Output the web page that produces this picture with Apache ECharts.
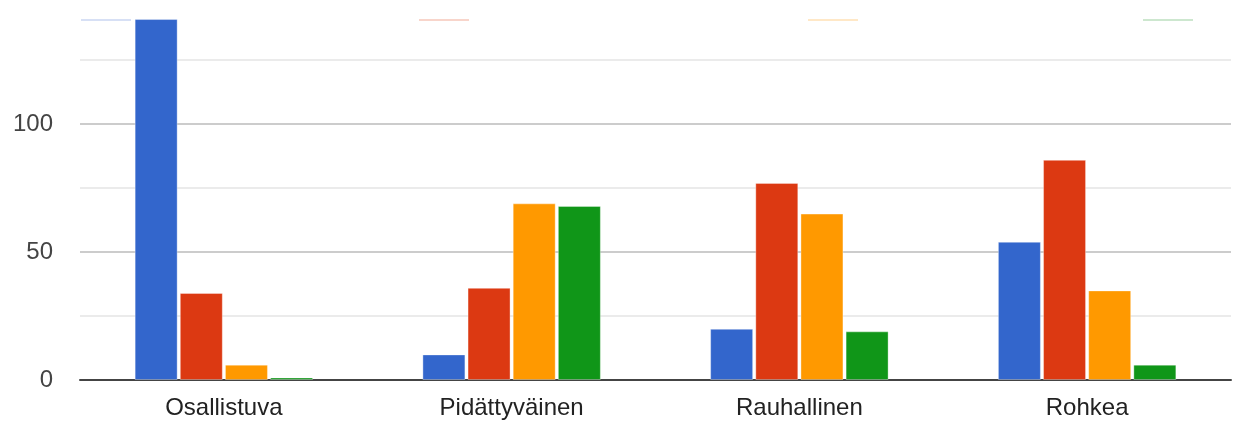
<!DOCTYPE html>
<html>
<head>
<meta charset="utf-8">
<script src="https://cdn.jsdelivr.net/npm/echarts@6/dist/echarts.min.js"></script>
<style>
html,body{margin:0;padding:0;background:#fff;overflow:hidden;width:1234px;height:423px;}
#c{width:1234px;height:427px;position:absolute;left:0;top:-4px;}
</style>
</head>
<body>
<div id="c"></div>
<script>
var categories = ['Osallistuva', 'Pidättyväinen', 'Rauhallinen', 'Rohkea'];
var seriesNames = ['Sarja 1', 'Sarja 2', 'Sarja 3', 'Sarja 4'];
var series1 = [141, 10, 20, 54];
var series2 = [34, 36, 77, 86];
var series3 = [6, 69, 65, 35];
var series4 = [1, 68, 19, 6];
var yTickLabels = [0, 50, 100];

var colors = ['#3366cc', '#dc3912', '#ff9900', '#109618'];
var legendColors = ['#c2d0f0', '#f5bfb0', '#ffdcaa', '#b3dbb5'];
var legendLefts = [80, 418, 807, 1142];
var values = [series1, series2, series3, series4];

var chart = echarts.init(document.getElementById('c'), null, {renderer: 'canvas'});

var legends = seriesNames.map(function (n, i) {
  return {
    left: legendLefts[i], top: 22, padding: 0,
    itemWidth: 50, itemHeight: 2, icon: 'rect',
    selectedMode: false,
    formatter: function () { return ''; },
    data: [{name: n, itemStyle: {color: legendColors[i]}}]
  };
});

chart.setOption({
  animation: false,
  color: colors,
  textStyle: {fontFamily: '"Liberation Sans", Arial, sans-serif'},
  legend: legends,
  grid: {left: 80, right: 3, top: 0, bottom: 43, containLabel: false},
  xAxis: {
    type: 'category',
    data: categories,
    axisTick: {show: false},
    axisLine: {show: true, lineStyle: {color: '#444', width: 2}},
    axisLabel: {fontSize: 24, color: '#222', margin: 16}
  },
  yAxis: {
    type: 'value',
    min: 0, max: 150, interval: 25,
    axisLine: {show: false},
    axisTick: {show: false},
    axisLabel: {
      fontSize: 24, color: '#444', margin: 27,
      formatter: function (v) { return yTickLabels.indexOf(v) >= 0 ? String(v) : ''; }
    },
    splitLine: {show: true, lineStyle: {color: ['#cccccc', '#ebebeb'], width: 2}}
  },
  series: values.map(function (d, i) {
    return {
      name: seriesNames[i],
      type: 'bar',
      data: d,
      barWidth: 43,
      barGap: '5%',
      itemStyle: {color: colors[i], borderColor: 'rgba(255,255,255,0.35)', borderWidth: 1}
    };
  })
});
</script>
</body>
</html>
